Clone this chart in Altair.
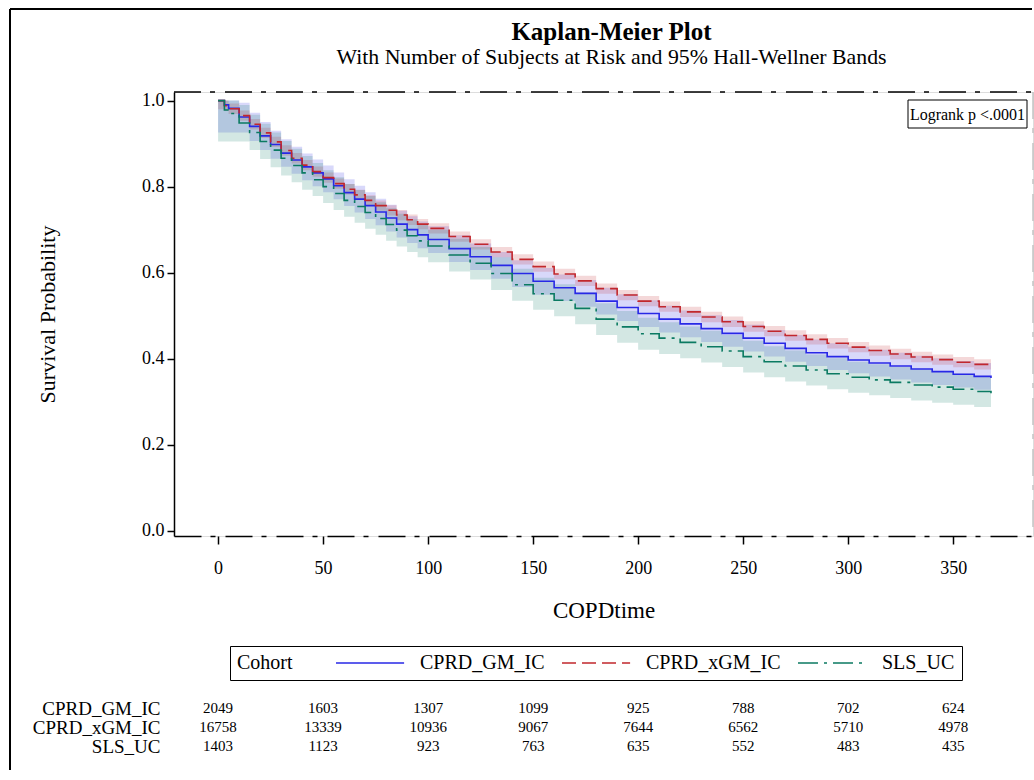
import altair as alt
import pandas as pd

# ---------------- data ----------------
cohorts = ["CPRD_GM_IC", "CPRD_xGM_IC", "SLS_UC"]
times = [0, 3, 5, 10, 15, 20, 25, 30, 35, 40, 45, 50, 55, 60, 65, 70, 75, 80, 85, 90, 95,
         100, 110, 120, 130, 140, 150, 160, 170, 180, 190, 200, 210, 220, 230, 240, 250,
         260, 270, 280, 290, 300, 310, 320, 330, 340, 350, 360, 368]

gm_est = [1.000, 0.990, 0.982, 0.962, 0.940, 0.918, 0.898, 0.878, 0.862, 0.846, 0.832,
          0.818, 0.802, 0.786, 0.771, 0.756, 0.741, 0.727, 0.713, 0.700, 0.688,
          0.677, 0.656, 0.637, 0.617, 0.598, 0.580, 0.565, 0.552, 0.534, 0.519, 0.505,
          0.492, 0.481, 0.470, 0.459, 0.448, 0.436, 0.424, 0.414, 0.405, 0.397, 0.390,
          0.383, 0.376, 0.370, 0.364, 0.359, 0.355]
gm_lo = [0.926, 0.926, 0.926, 0.926, 0.906, 0.885, 0.865, 0.846, 0.830, 0.815, 0.801,
         0.787, 0.771, 0.755, 0.740, 0.725, 0.710, 0.696, 0.682, 0.669, 0.657,
         0.646, 0.625, 0.606, 0.586, 0.567, 0.549, 0.534, 0.521, 0.503, 0.488, 0.474,
         0.461, 0.450, 0.439, 0.428, 0.417, 0.405, 0.393, 0.383, 0.374, 0.366, 0.359,
         0.352, 0.345, 0.339, 0.333, 0.328, 0.324]
gm_hi = [1.000, 1.000, 1.000, 0.995, 0.972, 0.950, 0.930, 0.910, 0.893, 0.877, 0.863,
         0.849, 0.833, 0.817, 0.802, 0.787, 0.772, 0.758, 0.744, 0.731, 0.719,
         0.708, 0.687, 0.668, 0.648, 0.629, 0.611, 0.596, 0.583, 0.565, 0.550, 0.536,
         0.523, 0.512, 0.501, 0.490, 0.479, 0.467, 0.455, 0.445, 0.436, 0.428, 0.421,
         0.414, 0.407, 0.401, 0.395, 0.390, 0.386]

xgm_est = [1.000, 0.988, 0.981, 0.965, 0.945, 0.925, 0.904, 0.884, 0.866, 0.850, 0.835,
           0.821, 0.807, 0.794, 0.781, 0.768, 0.756, 0.745, 0.734, 0.723, 0.713,
           0.703, 0.684, 0.666, 0.648, 0.631, 0.614, 0.597, 0.581, 0.563, 0.548, 0.534,
           0.521, 0.509, 0.497, 0.486, 0.475, 0.464, 0.454, 0.445, 0.436, 0.427, 0.419,
           0.411, 0.404, 0.398, 0.392, 0.387, 0.384]
xgm_lo = [0.980, 0.976, 0.969, 0.953, 0.933, 0.913, 0.892, 0.872, 0.854, 0.838, 0.823,
          0.809, 0.795, 0.782, 0.769, 0.756, 0.744, 0.733, 0.722, 0.711, 0.701,
          0.691, 0.672, 0.654, 0.636, 0.619, 0.602, 0.585, 0.569, 0.551, 0.536, 0.522,
          0.509, 0.497, 0.485, 0.474, 0.463, 0.452, 0.442, 0.433, 0.424, 0.415, 0.407,
          0.399, 0.392, 0.386, 0.380, 0.375, 0.372]
xgm_hi = [1.000, 1.000, 0.993, 0.977, 0.957, 0.937, 0.916, 0.896, 0.878, 0.862, 0.847,
          0.833, 0.819, 0.806, 0.793, 0.780, 0.768, 0.757, 0.746, 0.735, 0.725,
          0.715, 0.696, 0.678, 0.660, 0.643, 0.626, 0.609, 0.593, 0.575, 0.560, 0.546,
          0.533, 0.521, 0.509, 0.498, 0.487, 0.476, 0.466, 0.457, 0.448, 0.439, 0.431,
          0.423, 0.416, 0.410, 0.404, 0.399, 0.396]

sls_est = [1.000, 0.978, 0.970, 0.948, 0.926, 0.905, 0.885, 0.866, 0.849, 0.832, 0.816,
           0.800, 0.784, 0.768, 0.754, 0.740, 0.726, 0.712, 0.699, 0.686, 0.674,
           0.662, 0.641, 0.622, 0.598, 0.572, 0.551, 0.536, 0.517, 0.492, 0.474, 0.458,
           0.448, 0.438, 0.428, 0.418, 0.405, 0.393, 0.383, 0.374, 0.365, 0.357, 0.351,
           0.345, 0.339, 0.334, 0.329, 0.324, 0.320]
sls_lo = [0.905, 0.905, 0.905, 0.905, 0.885, 0.864, 0.845, 0.826, 0.810, 0.793, 0.778,
          0.762, 0.746, 0.730, 0.716, 0.702, 0.688, 0.674, 0.661, 0.648, 0.636,
          0.624, 0.603, 0.584, 0.560, 0.535, 0.514, 0.499, 0.480, 0.455, 0.437, 0.421,
          0.411, 0.401, 0.391, 0.381, 0.368, 0.357, 0.347, 0.338, 0.329, 0.321, 0.315,
          0.309, 0.303, 0.298, 0.293, 0.288, 0.284]
sls_hi = [1.000, 1.000, 1.000, 0.990, 0.967, 0.946, 0.926, 0.906, 0.888, 0.871, 0.855,
          0.838, 0.822, 0.806, 0.792, 0.778, 0.764, 0.750, 0.737, 0.724, 0.712,
          0.700, 0.679, 0.660, 0.636, 0.609, 0.588, 0.573, 0.554, 0.529, 0.511, 0.495,
          0.485, 0.475, 0.465, 0.455, 0.442, 0.429, 0.419, 0.410, 0.401, 0.393, 0.387,
          0.381, 0.375, 0.370, 0.365, 0.360, 0.356]

risk_times = [0, 50, 100, 150, 200, 250, 300, 350]
risk_gm = [2049, 1603, 1307, 1099, 925, 788, 702, 624]
risk_xgm = [16758, 13339, 10936, 9067, 7644, 6562, 5710, 4978]
risk_sls = [1403, 1123, 923, 763, 635, 552, 483, 435]

x_ticks = [0, 50, 100, 150, 200, 250, 300, 350]
y_ticks = [0.0, 0.2, 0.4, 0.6, 0.8, 1.0]

# ---------------- tables ----------------
km_rows = []
for c, est, lo, hi in zip(cohorts, [gm_est, xgm_est, sls_est],
                          [gm_lo, xgm_lo, sls_lo], [gm_hi, xgm_hi, sls_hi]):
    for t, e, l, h in zip(times, est, lo, hi):
        km_rows.append({"cohort": c, "time": t, "surv": e, "lo": l, "hi": h})
km = pd.DataFrame(km_rows)

risk_rows = []
for c, ns in zip(cohorts, [risk_gm, risk_xgm, risk_sls]):
    for t, n in zip(risk_times, ns):
        risk_rows.append({"cohort": c, "time": t, "n": n})
risk = pd.DataFrame(risk_rows)

one = pd.DataFrame({"k": [0]})

# ---------------- styling ----------------
FONT = "Liberation Serif"
W, H = 859, 444
colors = ["#2828E6", "#C1272D", "#0B7A62"]
dashes = [[1, 0], [14, 6], [20, 6, 3, 6]]
DASHDOT = [27, 9, 5, 10]

xscale = alt.Scale(domain=[-21, 388], nice=False, zero=False)
yscale = alt.Scale(domain=[-0.012, 1.02], nice=False, zero=False)

x_axis = alt.Axis(values=x_ticks, title="COPDtime", grid=False,
                  domainDash=DASHDOT, domainColor="black", domainWidth=1.5,
                  tickColor="black", tickSize=8, tickWidth=1.5,
                  labelFont=FONT, labelFontSize=18, labelColor="black", labelPadding=15,
                  labelFlush=False,
                  titleFont=FONT, titleFontSize=23, titleFontWeight="normal",
                  titleColor="black", titlePadding=22)
y_axis = alt.Axis(values=y_ticks, format=".1f", title="Survival Probability", grid=False,
                  domainColor="black", domainWidth=1.5,
                  tickColor="black", tickSize=7, tickWidth=1.5,
                  labelFont=FONT, labelFontSize=18, labelColor="black", labelPadding=3,
                  labelFlush=False,
                  titleFont=FONT, titleFontSize=22, titleFontWeight="normal",
                  titleColor="black", titlePadding=82)

legend = alt.Legend(title="Cohort", orient="none", legendX=56, legendY=554,
                    direction="horizontal", titleOrient="left",
                    titleFont=FONT, titleFontSize=20, titleFontWeight="normal",
                    titleColor="black", titlePadding=36,
                    labelFont=FONT, labelFontSize=20, labelColor="black",
                    symbolType="M-1,0H21.7", symbolSize=36, symbolStrokeWidth=1.5,
                    labelOffset=71, columnPadding=10,
                    strokeColor="black", padding=7, cornerRadius=0)

# fill scale takes its domain from the data (same alphabetical order as cohorts)
bands = alt.Chart(km).mark_area(interpolate="step-after", opacity=0.18).encode(
    x=alt.X("time:Q", scale=xscale, axis=x_axis),
    y=alt.Y("lo:Q", scale=yscale, axis=y_axis),
    y2="hi:Q",
    fill=alt.Fill("cohort:N", scale=alt.Scale(range=colors), legend=None),
)

lines = alt.Chart(km).mark_line(interpolate="step-after", strokeWidth=1.6).encode(
    x=alt.X("time:Q", scale=xscale, axis=x_axis),
    y=alt.Y("surv:Q", scale=yscale, axis=y_axis),
    stroke=alt.Stroke("cohort:N", scale=alt.Scale(domain=cohorts, range=colors), legend=legend),
    strokeDash=alt.StrokeDash("cohort:N", scale=alt.Scale(domain=cohorts, range=dashes), legend=legend),
)

top_border = alt.Chart(one).mark_rule(color="black", strokeWidth=1.5, strokeDash=DASHDOT).encode(
    x=alt.value(0), x2=alt.value(W), y=alt.value(0))
right_border = alt.Chart(one).mark_rule(color="#c4c4c4", strokeWidth=1.5, strokeDash=DASHDOT).encode(
    x=alt.value(W), y=alt.value(0), y2=alt.value(H))
outer_top = alt.Chart(one).mark_rule(color="black", strokeWidth=2).encode(
    x=alt.value(-164), x2=alt.value(858), y=alt.value(-83))
outer_left = alt.Chart(one).mark_rule(color="black", strokeWidth=2).encode(
    x=alt.value(-164), y=alt.value(-83), y2=alt.value(678))

logrank_box = alt.Chart(one).mark_rect(fill="white", stroke="black", strokeWidth=1).encode(
    x=alt.value(734), x2=alt.value(853), y=alt.value(8), y2=alt.value(36))
logrank_text = alt.Chart(one).mark_text(font=FONT, fontSize=16, color="black",
                                        align="center", baseline="middle").encode(
    x=alt.value(793.5), y=alt.value(22.5), text=alt.value("Logrank p <.0001"))

main = alt.layer(bands, lines, top_border, right_border, outer_top, outer_left,
                 logrank_box, logrank_text)

risk_text = alt.Chart(risk).mark_text(font=FONT, fontSize=15, color="black",
                                      align="center", baseline="middle").encode(
    x=alt.X("time:Q", scale=xscale, axis=x_axis),
    y=alt.Y("cohort:N",
            scale=alt.Scale(type="point", domain=cohorts, range=[616, 654], padding=0),
            axis=alt.Axis(orient="left", domain=False, ticks=False, grid=False, title=None,
                          labelFont=FONT, labelFontSize=19, labelColor="black",
                          labelPadding=14)),
    text=alt.Text("n:Q", format="d"),
)

chart = alt.layer(main, risk_text).resolve_scale(y="independent").properties(
    width=W, height=H,
    padding={"left": 9, "top": 8, "right": 0, "bottom": 0},
    title=alt.Title("Kaplan-Meier Plot",
                    subtitle="With Number of Subjects at Risk and 95% Hall-Wellner Bands",
                    font=FONT, fontSize=25, fontWeight="bold", color="black",
                    subtitleFont=FONT, subtitleFontSize=21.8, subtitleColor="black",
                    subtitlePadding=2, anchor="middle", frame="group", dx=8, offset=-61),
).configure_view(stroke=None).configure(background="white")

chart.save("out.html", embed_options={"renderer": "svg", "actions": False})
